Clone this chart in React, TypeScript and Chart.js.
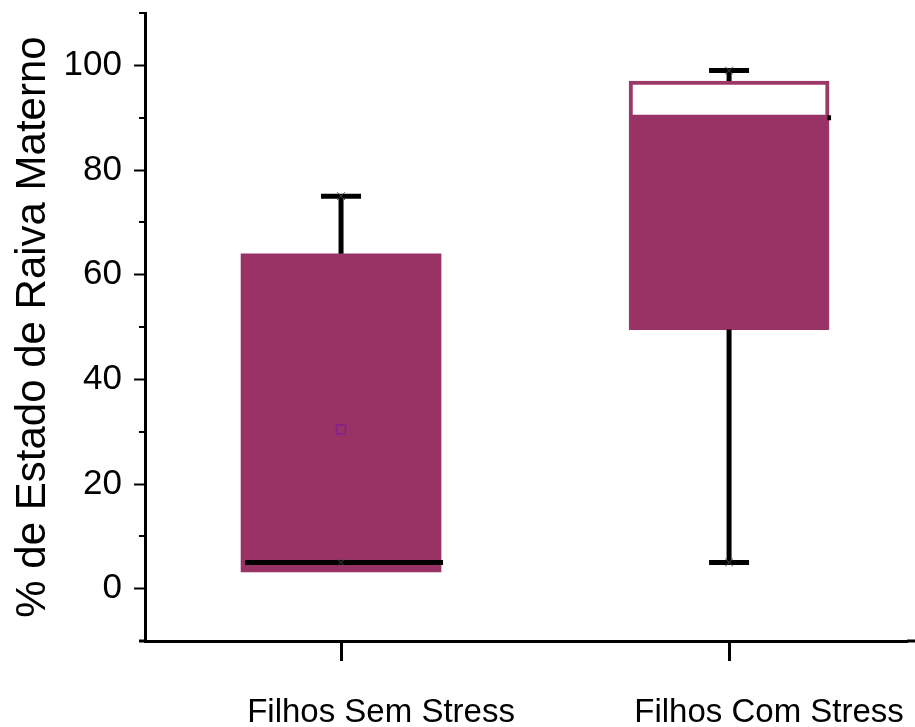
import React, { useEffect, useRef } from 'react';
import { Chart, registerables } from 'chart.js';

Chart.register(...registerables);

const categories = ['Filhos Sem Stress', 'Filhos Com Stress'];
const categoryPositions = [1, 2];
const minValues = [5, 5];
const q1Values = [3.2, 49.5];
const medianValues = [5, 90.0];
const q3Values = [64, 97];
const maxValues = [75, 99];
const fillTopValues: (number | null)[] = [null, 90.5];
const meanValues: (number | null)[] = [30.4, null];
const yTickValues = [0, 20, 40, 60, 80, 100];
const yMinorValues = [-10, 10, 30, 50, 70, 90, 110];

const BOX_COLOR = '#993366';
const FONT = "'Liberation Sans', Arial, Helvetica, sans-serif";

const boxPlugin = {
  id: 'boxExtras',
  afterDatasetDraw(chart: any, args: any) {
    const ctx = chart.ctx;
    const ys = chart.scales.y;
    const boxMeta = chart.getDatasetMeta(0);
    if (args.index === 0) {
      ctx.save();
      ctx.strokeStyle = '#000';
      ctx.lineWidth = 5;
      categoryPositions.forEach((_, i) => {
        const el = boxMeta.data[i];
        if (!el) return;
        const y = ys.getPixelForValue(medianValues[i]);
        ctx.beginPath();
        ctx.moveTo(el.x - el.width / 2 + 4, y);
        ctx.lineTo(el.x + el.width / 2 + 2, y);
        ctx.stroke();
      });
      ctx.restore();
    }
    if (args.index === 1) {
      ctx.save();
      ctx.strokeStyle = '#000';
      ctx.lineWidth = 5;
      categoryPositions.forEach((_, i) => {
        const el = boxMeta.data[i];
        if (!el) return;
        const cx = el.x;
        const yq1 = ys.getPixelForValue(q1Values[i]);
        const yq3 = ys.getPixelForValue(q3Values[i]);
        const ymax = ys.getPixelForValue(maxValues[i]);
        const ymin = ys.getPixelForValue(minValues[i]);
        if (maxValues[i] > q3Values[i]) {
          ctx.beginPath();
          ctx.moveTo(cx, yq3);
          ctx.lineTo(cx, ymax);
          ctx.stroke();
        }
        if (minValues[i] < q1Values[i]) {
          ctx.beginPath();
          ctx.moveTo(cx, yq1);
          ctx.lineTo(cx, ymin);
          ctx.stroke();
        }
        [ymax, ymin].forEach((yy) => {
          ctx.beginPath();
          ctx.moveTo(cx - 20, yy);
          ctx.lineTo(cx + 20, yy);
          ctx.stroke();
        });
      });
      ctx.restore();
    }
  },
  afterDraw(chart: any) {
    const ctx = chart.ctx;
    const ys = chart.scales.y;
    const area = chart.chartArea;
    ctx.save();
    ctx.strokeStyle = '#000';
    ctx.lineWidth = 2;
    yMinorValues.forEach((v) => {
      const y = Math.round(ys.getPixelForValue(v));
      ctx.beginPath();
      ctx.moveTo(area.left - 6, y);
      ctx.lineTo(area.left, y);
      ctx.stroke();
    });
    ctx.lineWidth = 3;
    ctx.beginPath();
    ctx.moveTo(area.left - 6, Math.round(area.bottom));
    ctx.lineTo(area.left, Math.round(area.bottom));
    ctx.moveTo(area.right, Math.round(area.bottom));
    ctx.lineTo(chart.width, Math.round(area.bottom));
    ctx.stroke();
    ctx.restore();
  },
};

export default function App() {
  const canvasRef = useRef<HTMLCanvasElement | null>(null);

  useEffect(() => {
    if (!canvasRef.current) return;
    const boxData = categoryPositions.map((x, i) => ({ x, y: [q1Values[i], q3Values[i]] }));
    const fillData = categoryPositions
      .map((x, i) => (fillTopValues[i] == null ? null : { x, y: [q1Values[i], fillTopValues[i] as number] }))
      .filter((d) => d !== null);
    const meanData = categoryPositions
      .map((x, i) => (meanValues[i] == null ? null : { x, y: meanValues[i] as number }))
      .filter((d) => d !== null);
    const extremeData = categoryPositions.flatMap((x, i) => [
      { x, y: maxValues[i] },
      { x, y: minValues[i] },
    ]);

    const chart = new Chart(canvasRef.current, {
      type: 'bar',
      data: {
        datasets: [
          {
            type: 'bar',
            label: 'box',
            data: boxData as any,
            backgroundColor: [BOX_COLOR, '#ffffff'],
            borderColor: [BOX_COLOR, '#9c3868'],
            borderWidth: [0, 4],
            borderSkipped: false,
            barThickness: 200,
            grouped: false,
            order: 5,
          },
          {
            type: 'bar',
            label: 'fill',
            data: fillData as any,
            backgroundColor: BOX_COLOR,
            borderWidth: 0,
            borderSkipped: false,
            barThickness: 196,
            grouped: false,
            order: 4,
          },
          {
            type: 'scatter',
            label: 'mean',
            data: meanData as any,
            pointStyle: 'rect',
            pointRadius: 6.4,
            borderColor: '#84208f',
            backgroundColor: 'rgba(0,0,0,0)',
            borderWidth: 1.5,
            order: 2,
          },
          {
            type: 'scatter',
            label: 'extremes',
            data: extremeData as any,
            pointStyle: 'crossRot',
            pointRadius: 5.5,
            borderColor: '#444',
            borderWidth: 1,
            order: 1,
          },
        ],
      },
      options: {
        animation: false,
        responsive: false,
        devicePixelRatio: 1,
        layout: { padding: { top: 13, left: 0, right: 0, bottom: 0 } },
        plugins: { legend: { display: false }, tooltip: { enabled: false } },
        scales: {
          x: {
            type: 'linear',
            offset: false,
            min: 0.4948,
            max: 2.4588,
            afterBuildTicks(s: any) {
              s.ticks = categoryPositions.map((v) => ({ value: v }));
            },
            afterFit(s: any) {
              s.height = 86;
              s.paddingLeft = 0;
              s.paddingRight = 0;
            },
            ticks: {
              autoSkip: false,
              maxRotation: 0,
              labelOffset: 40,
              padding: 32,
              color: '#000',
              font: { family: FONT, size: 33 },
              callback: (v: any) => categories[categoryPositions.indexOf(Number(v))] ?? '',
            },
            grid: { offset: false, drawOnChartArea: false, drawTicks: true, tickLength: 20, tickWidth: 3, tickColor: '#000' },
            border: { display: true, color: '#000', width: 3 },
          },
          y: {
            min: -10,
            max: 110,
            afterFit(s: any) {
              s.width = 145;
              s.paddingTop = 0;
              s.paddingBottom = 0;
            },
            ticks: {
              stepSize: 10,
              autoSkip: false,
              padding: 12,
              color: '#000',
              font: { family: FONT, size: 35 },
              callback: (v: any) => (yTickValues.includes(Number(v)) ? String(v) : ''),
            },
            grid: {
              drawOnChartArea: false,
              drawTicks: true,
              tickLength: 11,
              tickWidth: 2,
              tickColor: (c: any) => (c.tick && yTickValues.includes(c.tick.value) ? '#000' : 'rgba(0,0,0,0)'),
            },
            border: { display: true, color: '#000', width: 3 },
            title: {
              display: true,
              text: '% de Estado de Raiva Materno',
              color: '#000',
              font: { family: FONT, size: 42 },
              padding: { top: 8, bottom: 0 },
            },
          },
        },
      },
      plugins: [boxPlugin],
    } as any);
    return () => chart.destroy();
  }, []);

  return (
    <div style={{ position: 'fixed', left: 0, top: 0, width: 915, height: 727, background: '#fff' }}>
      <canvas ref={canvasRef} width={915} height={727} style={{ display: 'block' }} />
    </div>
  );
}
